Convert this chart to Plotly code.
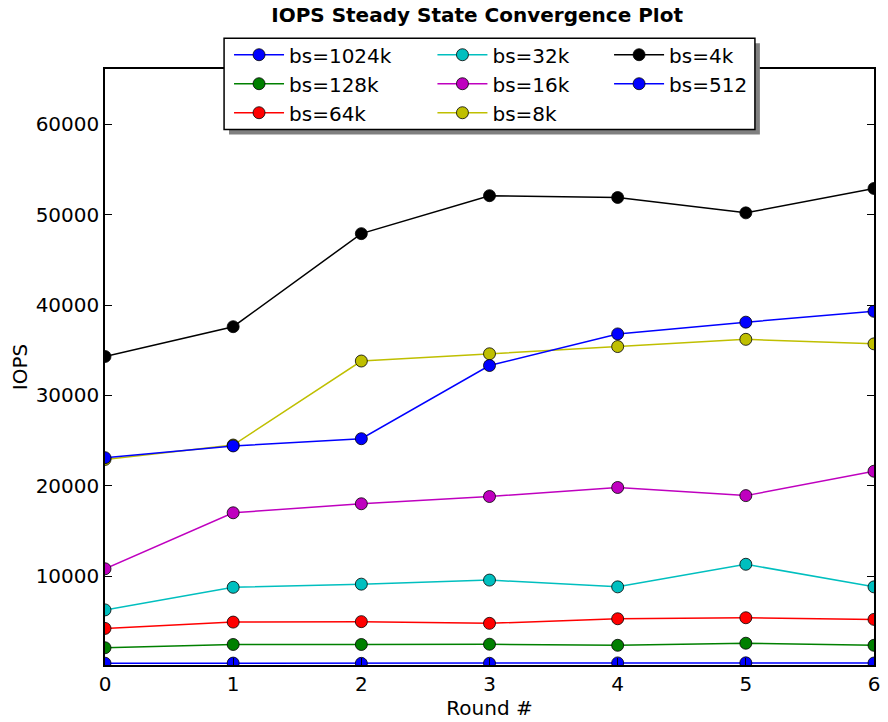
import plotly.graph_objects as go

rounds = [0, 1, 2, 3, 4, 5, 6]
series_names = ["bs=1024k", "bs=128k", "bs=64k", "bs=32k", "bs=16k", "bs=8k", "bs=4k", "bs=512"]
iops_1024k = [350, 360, 330, 340, 380, 390, 370]
iops_128k = [2060, 2420, 2420, 2450, 2330, 2560, 2330]
iops_64k = [4200, 4900, 4950, 4760, 5270, 5380, 5200]
iops_32k = [6250, 8750, 9100, 9550, 8800, 11300, 8800]
iops_16k = [10800, 17000, 18000, 18800, 19800, 18900, 21600]
iops_8k = [22900, 24500, 33800, 34600, 35400, 36200, 35700]
iops_4k = [34300, 37600, 47900, 52100, 51900, 50200, 52900]
iops_512 = [23100, 24400, 25200, 33300, 36800, 38100, 39300]
y_ticks = [10000, 20000, 30000, 40000, 50000, 60000]

series_values = [iops_1024k, iops_128k, iops_64k, iops_32k, iops_16k, iops_8k, iops_4k, iops_512]
colors = ["#0000FF", "#008000", "#FF0000", "#00BFBF", "#BF00BF", "#BFBF00", "#000000", "#0000FF"]
legend_ids = ["legend", "legend", "legend", "legend2", "legend2", "legend2", "legend3", "legend3"]

FONT = "DejaVu Sans"
# the page body adds an 8px offset; work in page pixels and convert
OFF = 8
W, H = 888 - OFF, 722 - OFF
PLOT_L, PLOT_R, PLOT_T, PLOT_B = 105, 880, 69, 669  # page pixels
L, R, T, B = PLOT_L - OFF, 888 - PLOT_R, PLOT_T - OFF, 722 - PLOT_B
PW, PH = PLOT_R - PLOT_L, PLOT_B - PLOT_T


def px2x(px):
    return (px - PLOT_L) / PW


def px2y(py):
    return (PLOT_B - py) / PH


fig = go.Figure()
for name, vals, col, lg in zip(series_names, series_values, colors, legend_ids):
    fig.add_trace(go.Scatter(
        x=rounds, y=vals, name=name, mode="lines+markers",
        line=dict(color=col, width=1.5),
        marker=dict(color=col, size=12, line=dict(color="black", width=0.8)),
        legend=lg,
    ))

ymax = max(max(v) for v in series_values) * 1.25

axis_common = dict(
    showline=True, linecolor="black", linewidth=1.5, mirror="allticks",
    ticks="inside", ticklen=7, tickwidth=1, tickcolor="black",
    showgrid=False, zeroline=False,
    tickfont=dict(family=FONT, size=20, color="black"),
)

legend_common = dict(
    xanchor="left", yanchor="top", bgcolor="rgba(0,0,0,0)", borderwidth=0,
    font=dict(family=FONT, size=20, color="black"), itemwidth=50,
    orientation="v",
)

LEG_TOP = 35
fig.update_layout(
    width=W, height=H,
    margin=dict(l=L, r=R, t=T, b=B),
    paper_bgcolor="white", plot_bgcolor="white",
    title=dict(text="<b>IOPS Steady State Convergence Plot</b>",
               x=px2x(480), xref="paper", xanchor="center",
               y=1.0, yref="container", yanchor="top",
               font=dict(family=FONT, size=20, color="black")),
    xaxis=dict(range=[0, 6], tickvals=rounds, **axis_common,
               title=dict(text="Round #", font=dict(family=FONT, size=20, color="black"), standoff=4)),
    yaxis=dict(range=[150, ymax], tickvals=y_ticks, tickformat="d", **axis_common,
               title=dict(text="IOPS", font=dict(family=FONT, size=20, color="black"), standoff=6)),
    legend=dict(x=px2x(230), y=px2y(LEG_TOP), **legend_common),
    legend2=dict(x=px2x(435), y=px2y(LEG_TOP), **legend_common),
    legend3=dict(x=px2x(613), y=px2y(LEG_TOP), **legend_common),
    showlegend=True,
    shapes=[
        dict(type="rect", xref="paper", yref="paper", layer="above",
             x0=px2x(230), x1=px2x(765), y0=px2y(43), y1=px2y(135),
             fillcolor="#808080", line=dict(width=0)),
        dict(type="rect", xref="paper", yref="paper", layer="above",
             x0=px2x(225), x1=px2x(760), y0=px2y(38), y1=px2y(130),
             fillcolor="white", line=dict(color="black", width=1.5)),
    ],
)

fig.write_html("out.html")
